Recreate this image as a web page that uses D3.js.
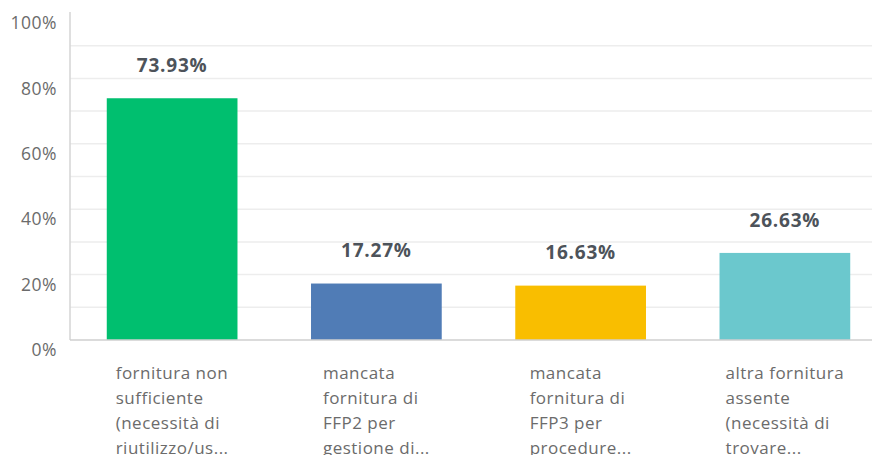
<!DOCTYPE html>
<html><head><meta charset="utf-8">
<script src="https://cdn.jsdelivr.net/npm/d3@7"></script>
<style>body{margin:0;background:#fff}svg{display:block}</style>
</head><body><svg id="c" width="872" height="455"></svg>
<script>
const categories = [
  ["fornitura non","sufficiente","(necessità di","riutilizzo/us..."],
  ["mancata","fornitura di","FFP2 per","gestione di..."],
  ["mancata","fornitura di","FFP3 per","procedure..."],
  ["altra fornitura","assente","(necessità di","trovare..."]
];
const values = [73.93, 17.27, 16.63, 26.63];
const colors = ["#00bf6f", "#507cb6", "#f9be00", "#6bc8cd"];
const yTicks = [0, 20, 40, 60, 80, 100];
const gridTicks = [10, 20, 30, 40, 50, 60, 70, 80, 90];

(function () {
const svg = d3.select("#c");
const mLeft = 70, mRight = 887, mTop = 13, mBottom = 340;
const font = "'Open Sans', Roboto, sans-serif";
const x = d3.scaleBand().domain(d3.range(values.length)).range([mLeft, mRight]).paddingInner(0.36).paddingOuter(0.18);
const y = d3.scaleLinear().domain([0, 100]).range([mBottom, mTop]);

svg.append("g").selectAll("line").data(gridTicks).join("line")
  .attr("x1", mLeft).attr("x2", 872).attr("y1", d => y(d)).attr("y2", d => y(d))
  .attr("stroke", "#ededed").attr("stroke-width", 1.5);

svg.append("line").attr("x1", mLeft).attr("x2", mLeft).attr("y1", mTop - 1).attr("y2", mBottom)
  .attr("stroke", "#d4d4d4").attr("stroke-width", 1.5);

const yAxis = d3.axisLeft(y).tickValues(yTicks).tickFormat(d => d + "%").tickSize(0).tickPadding(13);
const ya = svg.append("g").attr("transform", `translate(${mLeft},0)`).call(yAxis);
ya.select(".domain").remove();
ya.selectAll("text").attr("dy", "0.32em").attr("transform", "translate(0,10)")
  .style("font-family", font).style("font-size", "17.5px").style("letter-spacing", "0.5px").attr("fill", "#6b6b6b");

svg.append("g").selectAll("rect").data(values).join("rect")
  .attr("x", (d, i) => x(i)).attr("width", x.bandwidth())
  .attr("y", d => y(d)).attr("height", d => y(0) - y(d))
  .attr("fill", (d, i) => colors[i]);

svg.append("line").attr("x1", mLeft).attr("x2", 872).attr("y1", mBottom).attr("y2", mBottom)
  .attr("stroke", "#cfcfcf").attr("stroke-width", 1.5);

svg.append("g").selectAll("text").data(values).join("text")
  .attr("x", (d, i) => x(i) + x.bandwidth() / 2).attr("y", d => y(d) - 33)
  .attr("dy", "0.35em").attr("text-anchor", "middle")
  .style("font-family", font).style("font-size", "19px").style("font-weight", "bold").style("letter-spacing", "0.8px")
  .attr("fill", "#4d535a").text(d => d.toFixed(2) + "%");

categories.forEach((lines, i) => {
  const g = svg.append("g");
  const t = g.append("text").style("font-family", font).style("font-size", "17px").style("letter-spacing", "0.5px").attr("fill", "#6b6b6b");
  lines.forEach((l, j) => t.append("tspan").attr("x", 0).attr("y", 373 + j * 25).attr("dy", "0.35em").text(l));
  const w = t.node().getBBox().width;
  g.attr("transform", `translate(${x(i) + x.bandwidth() / 2 - w / 2},0)`);
});
})();
</script></body></html>
